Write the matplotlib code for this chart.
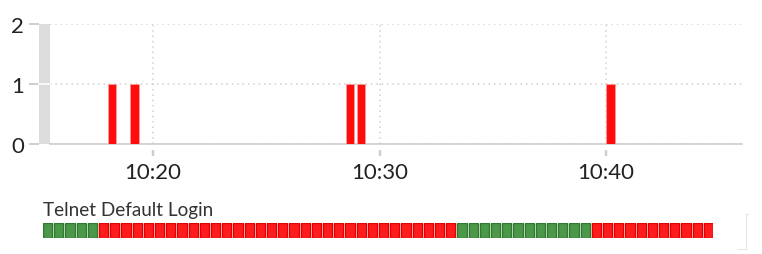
import matplotlib
matplotlib.use('Agg')
import matplotlib.pyplot as plt
import matplotlib.dates as mdates
import matplotlib.transforms as mtrans
from matplotlib.patches import Rectangle
from matplotlib.lines import Line2D
import pandas as pd

plt.rcParams['font.family'] = ['Lato', 'DejaVu Sans']

# ---- data ----
day = '2024-01-01 '
event_times = ['10:18:00', '10:19:00', '10:28:30', '10:29:00', '10:40:00']
event_counts = [1, 1, 1, 1, 1]
y_ticks = [0, 1, 2]
x_tick_times = ['10:20', '10:30', '10:40']
x_range = ['10:15:27', '10:46:00']
strip_title = 'Telnet Default Login'
strip_status = ['ok', 'ok', 'ok', 'ok', 'ok',
                'fail', 'fail', 'fail', 'fail', 'fail', 'fail', 'fail', 'fail',
                'fail', 'fail', 'fail', 'fail', 'fail', 'fail', 'fail', 'fail',
                'fail', 'fail', 'fail', 'fail', 'fail', 'fail', 'fail', 'fail',
                'fail', 'fail', 'fail', 'fail', 'fail', 'fail', 'fail', 'fail',
                'ok', 'ok', 'ok', 'ok', 'ok', 'ok', 'ok', 'ok', 'ok', 'ok', 'ok', 'ok',
                'fail', 'fail', 'fail', 'fail', 'fail', 'fail', 'fail', 'fail',
                'fail', 'fail', 'fail']

W, H = 762, 255
PX = 0.72  # points per pixel at dpi 100

fig = plt.figure(figsize=(W / 100, H / 100), dpi=100)

# ---- main event chart ----
ax = fig.add_axes([50 / W, 110 / H, 692 / W, 120 / H])
times = pd.to_datetime([day + t for t in event_times])
ax.bar(times, event_counts, width=22.5 / 86400, align='edge',
       color='#ff0d0d', edgecolor='#ff9a9a', linewidth=0.6, zorder=3)

ax.set_xlim(pd.to_datetime(day + x_range[0]), pd.to_datetime(day + x_range[1]))
ax.set_ylim(0, 2)
ax.set_yticks(y_ticks)
ax.set_xticks(pd.to_datetime([day + t for t in x_tick_times]))
ax.xaxis.set_major_formatter(mdates.DateFormatter('%H:%M'))

for s in ['top', 'right']:
    ax.spines[s].set_visible(False)
ax.spines['left'].set_position(('outward', 11 * PX))
ax.spines['left'].set_visible(False)
ax.spines['bottom'].set_position(('outward', 6 * PX))
ax.spines['bottom'].set_visible(False)

ax.tick_params(axis='y', direction='out', length=10 * PX, width=2 * PX,
               color='#cfcfcf', pad=5 * PX, labelsize=16, labelcolor='#222222')
ax.tick_params(axis='x', direction='out', length=6 * PX, width=2.5 * PX,
               color='#cfcfcf', pad=6 * PX, labelsize=16, labelcolor='#222222')

ax.set_axisbelow(True)
ax.grid(True, linestyle=(0, (1, 2.5)), color='#cfcfcf', linewidth=1.1)
ax.axhline(0, color='#cccccc', linewidth=1.6 * PX, clip_on=False, zorder=2)

# grey range bar on the left
ax.add_patch(Rectangle((-10.7 / 692, 0), 10.7 / 692, 1, transform=ax.transAxes,
                       clip_on=False, facecolor='#dcdcdc', linewidth=0, zorder=1))
blend = mtrans.blended_transform_factory(ax.transAxes, ax.transData)
ax.plot([-11 / 692, 0], [1, 1], transform=blend, color='white',
        linewidth=1.6 * PX, clip_on=False, zorder=2)

# ---- status strip ----
fig.text(43 / W, 1 - 216 / H, strip_title, fontsize=13.6, color='#333333',
         va='baseline', ha='left')
ax2 = fig.add_axes([43 / W, 16 / H, 670 / W, 15 / H])
fill = {'ok': '#4b984b', 'fail': '#ff1c1c'}
edge = {'ok': '#2f7a2f', 'fail': '#e20000'}
ax2.bar(range(len(strip_status)), [1] * len(strip_status), width=0.83,
        color=[fill[s] for s in strip_status],
        edgecolor=[edge[s] for s in strip_status], linewidth=1.0)
ax2.set_xlim(-0.415, len(strip_status) - 1 + 0.415)
ax2.set_ylim(0, 1)
ax2.axis('off')

# faint frame line at right
fig.add_artist(Line2D([745.5 / W, 745.5 / W], [1 - 215 / H, 1 - 250 / H],
                      color='#e6e6e6', linewidth=0.8))
fig.add_artist(Line2D([745.5 / W, 748 / W], [1 - 215 / H, 1 - 215 / H],
                      color='#e6e6e6', linewidth=0.8))
fig.add_artist(Line2D([738 / W, 745.5 / W], [1 - 250 / H, 1 - 250 / H],
                      color='#e6e6e6', linewidth=0.8))

fig.savefig('out.png', dpi=100)
